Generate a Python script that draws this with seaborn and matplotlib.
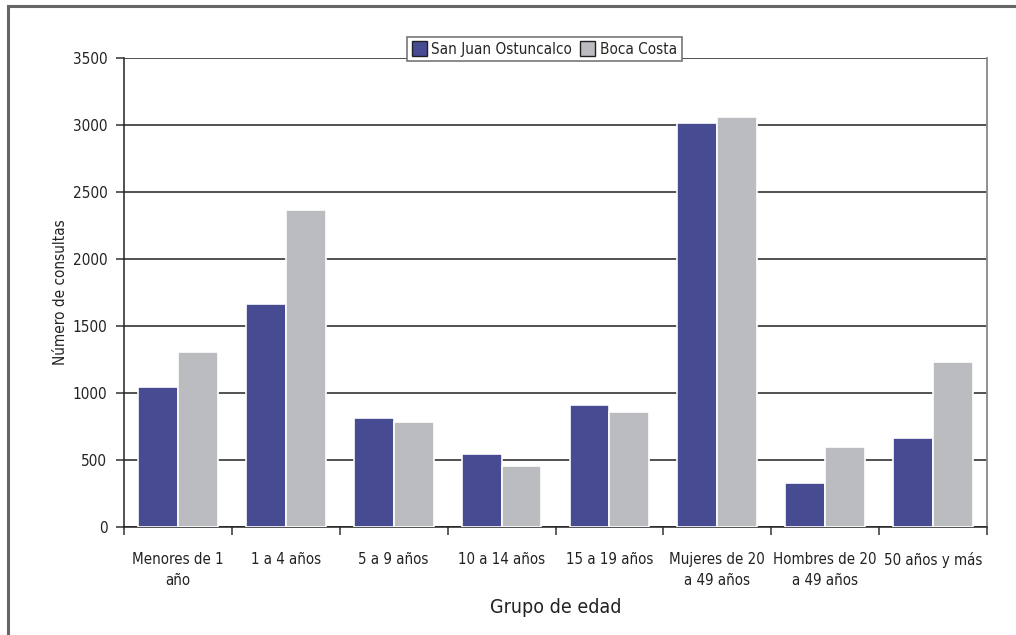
import matplotlib
matplotlib.use("Agg")
import matplotlib.pyplot as plt
from matplotlib.patches import Rectangle
from matplotlib.ticker import FixedLocator
import seaborn as sns
import pandas as pd

# Consultas por grupo de edad
categorias = [
    "Menores de 1\naño",
    "1 a 4 años",
    "5 a 9 años",
    "10 a 14 años",
    "15 a 19 años",
    "Mujeres de 20\na 49 años",
    "Hombres de 20\na 49 años",
    "50 años y más",
]
san_juan = [1045, 1662, 813, 545, 908, 3012, 325, 663]
boca_costa = [1306, 2366, 783, 458, 858, 3057, 595, 1233]
series = ["San Juan Ostuncalco", "Boca Costa"]
colores = ["#474b92", "#bbbcc0"]
y_ticks = [0, 500, 1000, 1500, 2000, 2500, 3000, 3500]

df = pd.DataFrame({
    "grupo": categorias * 2,
    "serie": [series[0]] * len(categorias) + [series[1]] * len(categorias),
    "consultas": san_juan + boca_costa,
})

sns.set_theme(style="white")
plt.rcParams["font.family"] = ["DejaVu Sans"]
plt.rcParams["font.stretch"] = "condensed"

fig = plt.figure(figsize=(10.16, 6.35), dpi=100)
ax = fig.add_axes([124 / 1016, 1 - 527 / 635, (987 - 124) / 1016, (527 - 58) / 635])

sns.barplot(
    data=df, x="grupo", y="consultas", hue="serie", order=categorias,
    hue_order=series, palette=colores, width=0.74, saturation=1,
    edgecolor="white", linewidth=1.2, ax=ax, zorder=3,
)

ax.set_ylim(0, 3500)
ax.set_xlim(-0.5, len(categorias) - 0.5)
ax.set_yticks(y_ticks)
ax.set_yticklabels([str(v) for v in y_ticks], fontsize=11, color="#222222")
ax.yaxis.grid(True, color="#222222", linewidth=1.1, zorder=0)
ax.set_axisbelow(True)

ax.set_xticks(range(len(categorias)))
ax.set_xticklabels(categorias, fontsize=10.8, color="#222222", linespacing=1.5)
ax.tick_params(axis="x", which="major", length=0, pad=18)
ax.xaxis.set_minor_locator(FixedLocator([i - 0.5 for i in range(len(categorias) + 1)]))
ax.tick_params(axis="x", which="minor", bottom=True, length=6, width=1.1, color="#333333")
ax.tick_params(axis="y", left=True, length=6, width=1.1, color="#333333", pad=6)

ax.set_xlabel("Grupo de edad", fontsize=14, color="#222222", labelpad=7)
ax.set_ylabel("Número de consultas", fontsize=11, color="#222222", labelpad=3)

for side in ["left", "bottom"]:
    ax.spines[side].set_color("#222222")
    ax.spines[side].set_linewidth(1.1)
ax.spines["right"].set_color("#888888")
ax.spines["right"].set_linewidth(1.3)
ax.spines["top"].set_visible(False)

leg = ax.legend(
    loc="center", bbox_to_anchor=(0.487, 1.019), ncol=2, fontsize=11,
    frameon=True, fancybox=False, edgecolor="#777777", framealpha=1,
    handlelength=1.0, handleheight=1.1, handletextpad=0.3,
    columnspacing=0.5, borderpad=0.3, borderaxespad=0,
)
leg.get_frame().set_linewidth(1.2)
for h in leg.legend_handles:
    h.set_edgecolor("#222222")
    h.set_linewidth(1.0)
leg.set_zorder(10)

# marco exterior de la figura
fig.patches.append(Rectangle(
    (8 / 1016, -0.2), 1.2, 0.2 + 1 - 6 / 635, transform=fig.transFigure,
    fill=False, edgecolor="#666666", linewidth=2.2,
))

fig.savefig("out.png", dpi=100)
